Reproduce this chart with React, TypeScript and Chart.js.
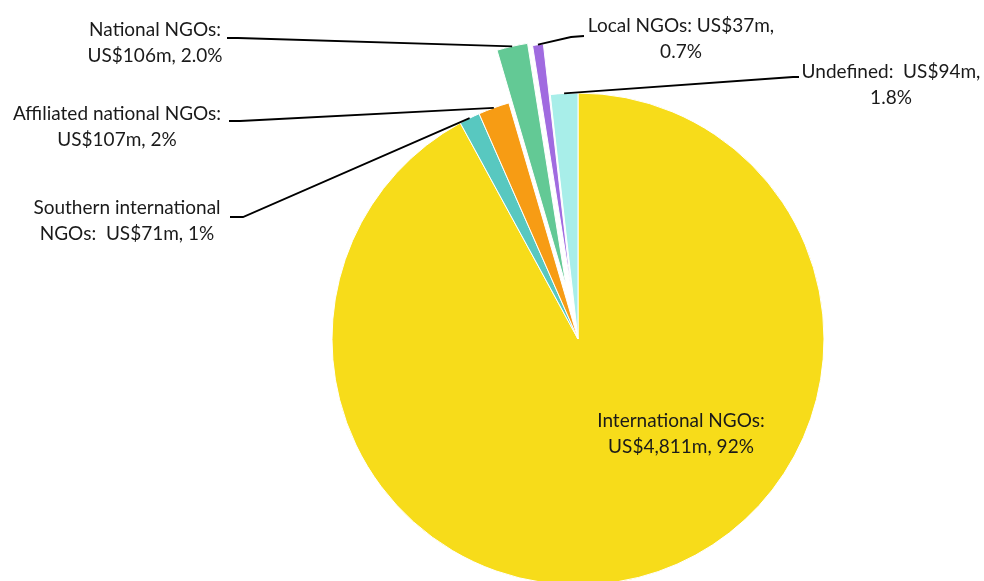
import React, { useEffect, useRef } from "react";
import { Chart, registerables } from "chart.js";

Chart.register(...registerables);

// ---- data ----
const categories = [
  "International NGOs",
  "Southern international NGOs",
  "Affiliated national NGOs",
  "National NGOs",
  "Local NGOs",
  "Undefined",
];
const valuesUSm = [4811, 71, 107, 106, 37, 94];
const labelLines: string[][] = [
  ["International NGOs:", "US$4,811m, 92%"],
  ["Southern international", "NGOs:  US$71m, 1%"],
  ["Affiliated national NGOs:", "US$107m, 2%"],
  ["National NGOs:", "US$106m, 2.0%"],
  ["Local NGOs: US$37m,", "0.7%"],
  ["Undefined:  US$94m,", "1.8%"],
];

// ---- styles / layout ----
const colors = ["#F7DC1A", "#58C8C0", "#F79C14", "#63C995", "#A06BE0", "#A8EEE9"];
const explodePx = [0, 0, 0, 54, 51, 0];
// label centre x and first-line baseline
const labelPos = [
  { cx: 681, y: 427 },
  { cx: 127, y: 214 },
  { cx: 117, y: 120 },
  { cx: 155, y: 36 },
  { cx: 681, y: 32 },
  { cx: 891, y: 78 },
];
// leader line points at the label side (from label towards slice)
const leaderPts: number[][][] = [
  [],
  [[230, 217], [243, 217]],
  [[229, 121], [240, 121]],
  [[227, 38], [238, 38]],
  [[584, 36], [571, 37]],
  [[799, 77], [793, 77]],
];
const FONT = "19px Lato";
const LINE_H = 25.5;

const explodePlugin = {
  id: "explode",
  afterDatasetUpdate(chart: any, args: any) {
    const meta = chart.getDatasetMeta(args.index);
    meta.data.forEach((el: any, i: number) => {
      const d = explodePx[i] || 0;
      if (!d) return;
      const mid = (el.startAngle + el.endAngle) / 2;
      el.x += Math.cos(mid) * d;
      el.y += Math.sin(mid) * d;
    });
  },
};

const labelPlugin = {
  id: "pieLabels",
  afterDraw(chart: any) {
    const ctx = chart.ctx;
    const meta = chart.getDatasetMeta(0);
    ctx.save();
    // leader lines
    ctx.strokeStyle = "#000";
    ctx.lineWidth = 1.8;
    meta.data.forEach((el: any, i: number) => {
      const pts = leaderPts[i];
      if (!pts || !pts.length) return;
      const mid = (el.startAngle + el.endAngle) / 2;
      const ax = el.x + Math.cos(mid) * el.outerRadius;
      const ay = el.y + Math.sin(mid) * el.outerRadius;
      ctx.beginPath();
      ctx.moveTo(pts[0][0], pts[0][1]);
      for (let k = 1; k < pts.length; k++) ctx.lineTo(pts[k][0], pts[k][1]);
      ctx.lineTo(ax, ay);
      ctx.stroke();
    });
    // texts
    ctx.fillStyle = "#1a1a1a";
    ctx.font = FONT;
    ctx.textAlign = "center";
    ctx.textBaseline = "alphabetic";
    labelLines.forEach((lines, i) => {
      const p = labelPos[i];
      lines.forEach((t, k) => ctx.fillText(t, p.cx, p.y + k * LINE_H));
    });
    ctx.restore();
  },
};

export default function App() {
  const ref = useRef<HTMLCanvasElement | null>(null);
  useEffect(() => {
    if (!ref.current) return;
    const chart = new Chart(ref.current, {
      type: "pie",
      data: {
        labels: categories,
        datasets: [
          {
            data: valuesUSm,
            backgroundColor: colors,
            borderColor: "#ffffff",
            borderWidth: 1,
            clip: false as any,
          } as any,
        ],
      },
      options: {
        responsive: false,
        animation: false,
        events: [],
        radius: 246,
        rotation: 0,
        layout: { padding: { left: 336, right: 164, top: 97, bottom: 0 } },
        plugins: {
          legend: { display: false },
          tooltip: { enabled: false },
        },
      } as any,
      plugins: [explodePlugin, labelPlugin],
    });
    return () => chart.destroy();
  }, []);
  return (
    <div style={{ position: "absolute", left: 0, top: 0, width: 984, height: 581, background: "#fff" }}>
      <canvas ref={ref} width={984} height={581} style={{ display: "block" }} />
    </div>
  );
}
